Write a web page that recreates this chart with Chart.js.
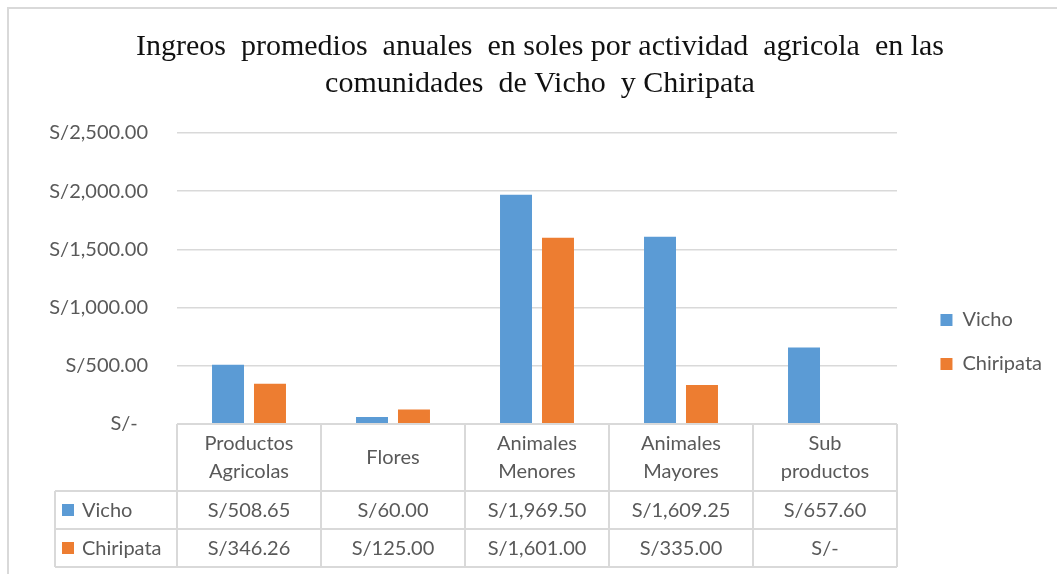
<!DOCTYPE html>
<html>
<head>
<meta charset="utf-8">
<script src="https://cdn.jsdelivr.net/npm/chart.js@4.4.0/dist/chart.umd.min.js"></script>
<style>
  html, body { margin: 0; padding: 0; background: #fff; overflow: hidden; }
  #frame { position: absolute; left: 7px; top: 7px; width: 1100px; height: 600px;
           border-left: 2px solid #d9d9d9; border-top: 2px solid #d9d9d9; }
  #wrap { position: absolute; left: 0; top: 0; width: 1080px; height: 574px; }
</style>
</head>
<body>
<div id="frame"></div>
<div id="wrap"><canvas id="mycanvas"></canvas></div>
<script>
var titleLines = ['Ingreos  promedios  anuales  en soles por actividad  agricola  en las',
                  'comunidades  de Vicho  y Chiripata'];
var categories = [['Productos', 'Agricolas'], ['Flores'], ['Animales', 'Menores'],
                  ['Animales', 'Mayores'], ['Sub', 'productos']];
var vicho = [508.65, 60.00, 1969.50, 1609.25, 657.60];
var chiripata = [346.26, 125.00, 1601.00, 335.00, 0];
var yTicks = [0, 500, 1000, 1500, 2000, 2500];

var textGray = '#595959';
var lineGray = '#d9d9d9';
var font = 'Lato';
var side = 28; // left/right padding, keeps the title centred

function soles(v) {
	if (v === 0) return 'S/-';
	return 'S/' + v.toLocaleString('en-US', {minimumFractionDigits: 2, maximumFractionDigits: 2});
}

// data table under the x axis, drawn from the x scale columns
var dataTable = {
	id: 'dataTable',
	afterDraw: function(chart) {
		var ctx = chart.ctx;
		var x = chart.scales.x;
		var top = chart.chartArea.bottom;
		var n = categories.length;
		var w = (x.right - x.left) / n;
		var headH = 67, rowH = 38, keyLeft = 55;
		var bottom = top + headH + rowH * 2;

		ctx.save();
		ctx.strokeStyle = lineGray;
		ctx.lineWidth = 2;
		ctx.beginPath();
		ctx.moveTo(x.left, top); ctx.lineTo(x.right, top);
		for (var r = 0; r < 3; r++) {
			var yy = top + headH + r * rowH;
			ctx.moveTo(keyLeft, yy); ctx.lineTo(x.right, yy);
		}
		ctx.moveTo(keyLeft, top + headH); ctx.lineTo(keyLeft, bottom);
		for (var i = 0; i <= n; i++) {
			var xx = x.left + i * w;
			ctx.moveTo(xx, top); ctx.lineTo(xx, bottom);
		}
		ctx.stroke();

		ctx.font = '20px ' + font;
		ctx.fillStyle = textGray;
		ctx.textAlign = 'center';
		ctx.textBaseline = 'middle';
		for (var i = 0; i < n; i++) {
			var cx = x.getPixelForValue(i);
			var lines = categories[i];
			for (var j = 0; j < lines.length; j++) {
				ctx.fillText(lines[j], cx, top + headH / 2 + (j - (lines.length - 1) / 2) * 28);
			}
		}

		chart.data.datasets.forEach(function(ds, r) {
			var cy = top + headH + r * rowH + rowH / 2;
			ctx.fillStyle = ds.backgroundColor;
			ctx.fillRect(keyLeft + 7, cy - 6, 12, 12);
			ctx.fillStyle = textGray;
			ctx.textAlign = 'left';
			ctx.fillText(ds.label, keyLeft + 27, cy + 1);
			ctx.textAlign = 'center';
			for (var i = 0; i < n; i++) {
				ctx.fillText(soles(ds.data[i]), x.getPixelForValue(i), cy + 1);
			}
		});
		ctx.restore();
	}
};

var chartdata = {
	labels: categories,
	datasets: [
		{
			label: 'Vicho',
			backgroundColor: '#5b9bd5',
			data: vicho,
			categoryPercentage: 0.583,
			barPercentage: 0.762
		},
		{
			label: 'Chiripata',
			backgroundColor: '#ed7d31',
			data: chiripata,
			categoryPercentage: 0.583,
			barPercentage: 0.762
		}
	]
};

var ctx = document.getElementById('mycanvas');

var BarGraph = new Chart(ctx, {
	type: 'bar',
	data: chartdata,
	plugins: [dataTable],
	options: {
		responsive: true,
		maintainAspectRatio: false,
		animation: false,
		layout: { padding: { left: side, right: side, top: 8, bottom: 0 } },
		plugins: {
			title: {
				display: true,
				text: titleLines,
				color: '#111',
				font: { family: 'Liberation Serif', size: 30, weight: 'normal', lineHeight: 1.25 },
				padding: { top: 20, bottom: 30 }
			},
			legend: {
				position: 'right',
				// empty legend title only pushes the items down
				title: { display: true, text: '', font: { size: 10, lineHeight: 1 }, padding: { top: 0, bottom: 92 } },
				labels: {
					boxWidth: 12,
					boxHeight: 12,
					padding: 24,
					color: textGray,
					font: { family: font, size: 20 }
				}
			},
			tooltip: { enabled: false }
		},
		scales: {
			x: {
				grid: { display: false },
				border: { display: false },
				ticks: { display: false },
				afterFit: function(s) { s.height = 150; }
			},
			y: {
				min: 0,
				max: 2500,
				grid: { color: lineGray, lineWidth: 1.5, drawTicks: false },
				border: { display: false },
				afterBuildTicks: function(s) {
					s.ticks = yTicks.map(function(v) { return {value: v}; });
				},
				ticks: {
					padding: 29,
					color: textGray,
					font: { family: font, size: 20 },
					callback: function(v) { return v === 0 ? 'S/-  ' : soles(v); }
				},
				afterFit: function(s) { s.width = 177 - side; }
			},
			gap: {
				position: 'right',
				grid: { display: false },
				border: { display: false },
				ticks: { display: false },
				afterFit: function(s) {
					s.width = Math.max(0, s.chart.width - side - s.chart.legend.width - 897);
				}
			}
		}
	}
});
</script>
</body>
</html>
